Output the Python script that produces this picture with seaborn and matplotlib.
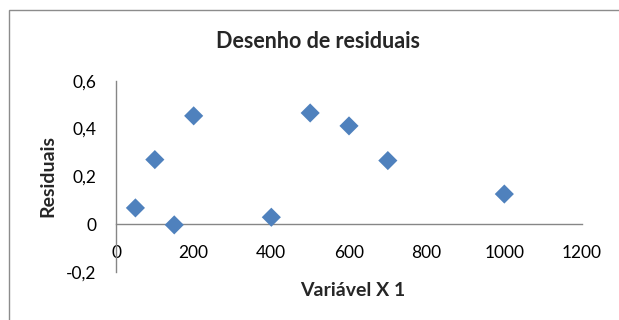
import matplotlib
matplotlib.use("Agg")
import matplotlib.pyplot as plt
import seaborn as sns
import pandas as pd
from matplotlib.patches import Rectangle
from matplotlib.ticker import FuncFormatter

# Residuals per value of the explanatory variable
variavel_x1 = [50, 100, 150, 200, 400, 500, 600, 700, 1000]
residuais = [0.068, 0.270, -0.003, 0.453, 0.029, 0.465, 0.411, 0.266, 0.126]
x_ticks = [0, 200, 400, 600, 800, 1000, 1200]
y_ticks = [-0.2, 0, 0.2, 0.4, 0.6]

df = pd.DataFrame({"Variável X 1": variavel_x1, "Residuais": residuais})

sns.set_style("white")
plt.rcParams["font.family"] = ["Lato", "DejaVu Sans"]

W, H = 619, 320
fig = plt.figure(figsize=(W / 100, H / 100), dpi=100)
fig.patch.set_facecolor("white")

# chart-area frame
fig.add_artist(Rectangle((8.5 / W, -0.1), 1.2, 1 - 9.5 / H + 0.1,
                         transform=fig.transFigure, fill=False,
                         edgecolor="#8c8c8c", linewidth=1.0))

ax = fig.add_axes([116 / W, 1 - 272 / H, (582 - 116) / W, (272 - 80.7) / H])
sns.scatterplot(data=df, x="Variável X 1", y="Residuais", ax=ax,
                marker="D", s=95, color="#4F81BD", edgecolor="none",
                linewidth=0, zorder=3, clip_on=False)

ax.set_xlim(0, 1200)
ax.set_ylim(-0.2, 0.6)
ax.set_xticks(x_ticks)
ax.set_yticks(y_ticks)
ax.yaxis.set_major_formatter(FuncFormatter(lambda v, p: f"{v:g}".replace(".", ",")))

for side in ("top", "right"):
    ax.spines[side].set_visible(False)
axis_color = "#868686"
ax.spines["left"].set_color(axis_color)
ax.spines["bottom"].set_color(axis_color)
ax.spines["bottom"].set_position(("data", 0))
ax.spines["left"].set_linewidth(1.0)
ax.spines["bottom"].set_linewidth(1.0)

ax.tick_params(axis="both", direction="out", length=5, width=1.0,
               color=axis_color, labelsize=12.5, labelcolor="black")
ax.tick_params(axis="y", pad=9)
ax.tick_params(axis="x", pad=10)

ax.set_xlabel("")
ax.set_ylabel("")
fig.text(318 / W, 1 - 42 / H, "Desenho de residuais", ha="center", va="center",
         fontsize=15.5, fontweight="bold")
fig.text(353 / W, 1 - 290 / H, "Variável X 1", ha="center", va="center",
         fontsize=14, fontweight="bold")
fig.text(48 / W, 1 - 176 / H, "Residuais", ha="center", va="center",
         rotation=90, fontsize=14, fontweight="bold")

fig.savefig("out.png", dpi=100, facecolor="white")
